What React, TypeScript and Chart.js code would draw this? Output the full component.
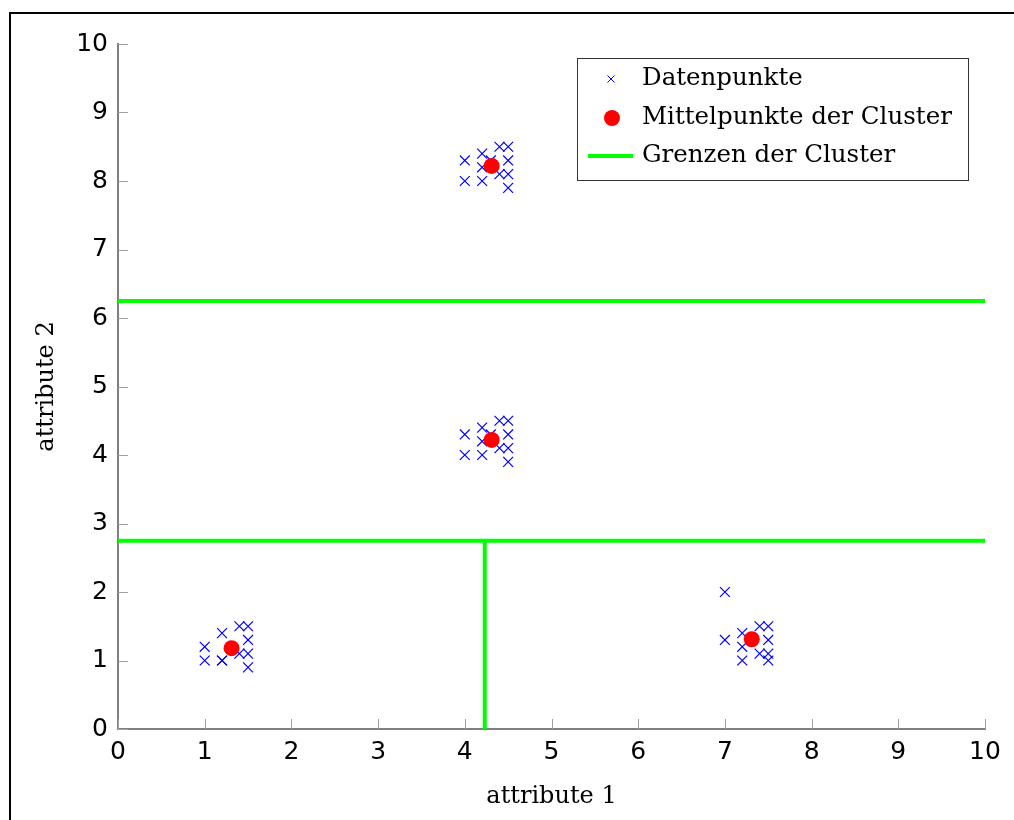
import React, { useEffect, useRef } from 'react';
import { Chart, registerables } from 'chart.js';

Chart.register(...registerables);

// Data points (four clusters)
const pointsX = [
  4, 4, 4.2, 4.2, 4.2, 4.4, 4.5, 4.5, 4.4, 4.5, 4.5, 4.3,
  4, 4, 4.2, 4.2, 4.2, 4.4, 4.5, 4.5, 4.4, 4.5, 4.5, 4.3,
  1, 1, 1.2, 1.2, 1.2, 1.4, 1.5, 1.5, 1.4, 1.5, 1.5,
  7, 7, 7.2, 7.2, 7.2, 7.4, 7.5, 7.5, 7.4, 7.5, 7.5,
];
const pointsY = [
  8.3, 8, 8.4, 8, 8.2, 8.5, 8.5, 8.3, 8.1, 8.1, 7.9, 8.3,
  4.3, 4, 4.4, 4, 4.2, 4.5, 4.5, 4.3, 4.1, 4.1, 3.9, 4.3,
  1.2, 1, 1.4, 1, 1, 1.5, 1.5, 1.3, 1.1, 1.1, 0.9,
  2, 1.3, 1.4, 1.2, 1, 1.5, 1.5, 1.3, 1.1, 1.1, 1,
];

// Cluster centres
const centerX = [4.31, 4.31, 1.31, 7.31];
const centerY = [8.22, 4.22, 1.18, 1.31];

// Cluster boundaries (each a segment: two x values, two y values)
const boundaryXs = [[0, 10], [0, 10], [4.23, 4.23]];
const boundaryYs = [[6.25, 6.25], [2.75, 2.75], [0, 2.75]];

const tickValues = [0, 1, 2, 3, 4, 5, 6, 7, 8, 9, 10];

const labelPoints = 'Datenpunkte';
const labelCenters = 'Mittelpunkte der Cluster';
const labelBounds = 'Grenzen der Cluster';
const xTitle = 'attribute 1';
const yTitle = 'attribute 2';

const BLUE = '#0000ff';
const RED = '#ff0000';
const GREEN = '#00ff00';
const SERIF = '"DejaVu Serif", serif';
const SANS = '"DejaVu Sans", sans-serif';

const decorPlugin = {
  id: 'decor',
  beforeDraw(chart: any) {
    const { ctx, width, height } = chart;
    ctx.save();
    ctx.fillStyle = '#fff';
    ctx.fillRect(0, 0, width, height);
    ctx.strokeStyle = '#000';
    ctx.lineWidth = 2;
    ctx.beginPath();
    ctx.moveTo(width + 5, 13);
    ctx.lineTo(10, 13);
    ctx.lineTo(10, height + 5);
    ctx.stroke();
    ctx.restore();
  },
  afterDraw(chart: any) {
    const { ctx } = chart;
    const xs = chart.scales.x;
    const ys = chart.scales.y;
    const area = chart.chartArea;
    ctx.save();
    // inward ticks
    ctx.strokeStyle = '#a0a0a0';
    ctx.lineWidth = 1;
    ctx.beginPath();
    xs.ticks.forEach((t: any) => {
      const px = Math.round(xs.getPixelForValue(t.value)) + 0.5;
      ctx.moveTo(px, area.bottom);
      ctx.lineTo(px, area.bottom - 10);
    });
    ys.ticks.forEach((t: any) => {
      const py = Math.round(ys.getPixelForValue(t.value)) + 0.5;
      ctx.moveTo(area.left, py);
      ctx.lineTo(area.left + 10, py);
    });
    ctx.stroke();

    // legend
    const bx = 577, by = 58, bw = 391, bh = 122;
    ctx.fillStyle = '#fff';
    ctx.fillRect(bx, by, bw, bh);
    ctx.strokeStyle = '#333';
    ctx.lineWidth = 1;
    ctx.strokeRect(bx + 0.5, by + 0.5, bw, bh);

    const rows = [79, 118, 156];
    const sx = 611;
    // cross
    ctx.strokeStyle = BLUE;
    ctx.lineWidth = 1;
    ctx.beginPath();
    ctx.moveTo(sx - 3.5, rows[0] - 3.5);
    ctx.lineTo(sx + 3.5, rows[0] + 3.5);
    ctx.moveTo(sx + 3.5, rows[0] - 3.5);
    ctx.lineTo(sx - 3.5, rows[0] + 3.5);
    ctx.stroke();
    // dot
    ctx.fillStyle = RED;
    ctx.beginPath();
    ctx.arc(sx + 1, rows[1], 8, 0, Math.PI * 2);
    ctx.fill();
    // line
    ctx.strokeStyle = GREEN;
    ctx.lineWidth = 4;
    ctx.beginPath();
    ctx.moveTo(588, rows[2]);
    ctx.lineTo(633, rows[2]);
    ctx.stroke();

    ctx.fillStyle = '#000';
    ctx.font = `24.5px ${SERIF}`;
    ctx.textBaseline = 'middle';
    ctx.textAlign = 'left';
    ctx.fillText(labelPoints, 642, rows[0]);
    ctx.fillText(labelCenters, 642, rows[1]);
    ctx.fillText(labelBounds, 642, rows[2]);
    ctx.restore();
  },
};

export default function App() {
  const ref = useRef<HTMLCanvasElement | null>(null);

  useEffect(() => {
    if (!ref.current) return;
    const boundaryDatasets = boundaryXs.map((xsArr, i) => ({
      type: 'scatter' as const,
      label: labelBounds,
      data: xsArr.map((x, j) => ({ x, y: boundaryYs[i][j] })),
      showLine: true,
      borderColor: GREEN,
      backgroundColor: GREEN,
      borderWidth: 4,
      pointRadius: 0,
      clip: false as any,
    }));
    const chart = new Chart(ref.current, {
      type: 'scatter',
      data: {
        datasets: [
          {
            label: labelCenters,
            data: centerX.map((x, i) => ({ x, y: centerY[i] })),
            pointStyle: 'circle',
            pointRadius: 8,
            backgroundColor: RED,
            borderColor: RED,
            borderWidth: 0,
          },
          {
            label: labelPoints,
            data: pointsX.map((x, i) => ({ x, y: pointsY[i] })),
            pointStyle: 'crossRot',
            pointRadius: 7,
            borderColor: BLUE,
            backgroundColor: BLUE,
            borderWidth: 1.2,
          },
          ...boundaryDatasets,
        ] as any,
      },
      options: {
        responsive: false,
        animation: false,
        devicePixelRatio: 1,
        layout: { padding: { top: 44, right: 29, left: 0, bottom: 0 } },
        plugins: { legend: { display: false }, tooltip: { enabled: false } },
        scales: {
          x: {
            type: 'linear',
            min: 0,
            max: 10,
            afterBuildTicks: (s: any) => {
              s.ticks = tickValues.map((v) => ({ value: v }));
            },
            ticks: {
              padding: 8,
              color: '#000',
              maxRotation: 0,
              font: { family: SANS, size: 25 },
              callback: (v: any) => String(v),
            },
            grid: { display: false, drawTicks: false },
            border: { display: true, color: '#808080', width: 2 },
            title: {
              display: true,
              text: xTitle,
              color: '#000',
              font: { family: SERIF, size: 24 },
              padding: { top: 0, bottom: 9 },
            },
            afterFit: (s: any) => {
              s.height = 91;
            },
          },
          y: {
            type: 'linear',
            min: 0,
            max: 10,
            afterBuildTicks: (s: any) => {
              s.ticks = tickValues.map((v) => ({ value: v }));
            },
            ticks: {
              padding: 10,
              color: '#000',
              font: { family: SANS, size: 25 },
              callback: (v: any) => String(v),
            },
            grid: { display: false, drawTicks: false },
            border: { display: true, color: '#808080', width: 2 },
            title: {
              display: true,
              text: yTitle,
              color: '#000',
              font: { family: SERIF, size: 24 },
              padding: { top: 32, bottom: 0 },
            },
            afterFit: (s: any) => {
              s.width = 118;
            },
          },
        },
      } as any,
      plugins: [decorPlugin],
    });
    return () => chart.destroy();
  }, []);

  return (
    <div style={{ position: 'fixed', left: 0, top: 0, width: 1014, height: 820, overflow: 'hidden', background: '#fff' }}>
      <canvas ref={ref} width={1014} height={820} style={{ display: 'block', width: 1014, height: 820 }} />
    </div>
  );
}
